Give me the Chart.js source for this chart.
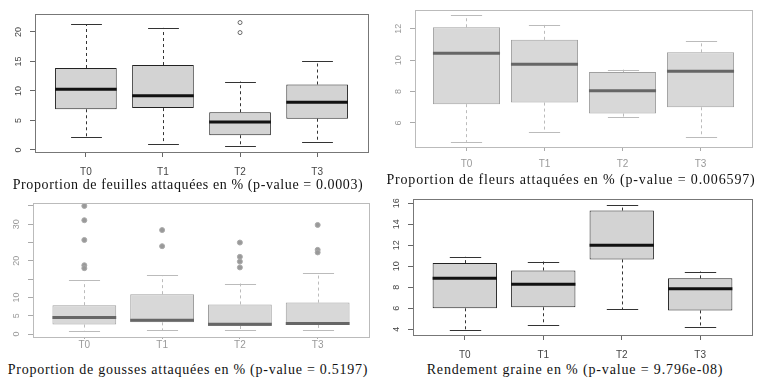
<!DOCTYPE html>
<html>
<head>
<meta charset="utf-8">
<script src="https://cdn.jsdelivr.net/npm/chart.js@4.4.1/dist/chart.umd.min.js"></script>
<style>
  body { margin: 0; background: #fff; width: 758px; height: 378px; position: relative; overflow: hidden; }
  .panel { position: absolute; }
  .caption { position: absolute; font-family: "Liberation Serif", serif; font-size: 14px; color: #111; white-space: nowrap; transform: translate(-50%, -50%); }
</style>
</head>
<body>
<div class="panel" style="left:0px;top:0px"><canvas id="feuilles" width="376" height="180"></canvas></div>
<div class="panel" style="left:380px;top:0px"><canvas id="fleurs" width="378" height="172"></canvas></div>
<div class="panel" style="left:0px;top:190px"><canvas id="gousses" width="376" height="170"></canvas></div>
<div class="panel" style="left:380px;top:190px"><canvas id="rendement" width="378" height="172"></canvas></div>
<div class="caption" style="left:188px;top:185px;letter-spacing:0.6px">Proportion de feuilles attaquées en % (p-value = 0.0003)</div>
<div class="caption" style="left:571px;top:180px;letter-spacing:0.85px">Proportion de fleurs attaquées en % (p-value = 0.006597)</div>
<div class="caption" style="left:188px;top:370px;letter-spacing:0.75px">Proportion de gousses attaquées en % (p-value = 0.5197)</div>
<div class="caption" style="left:575px;top:370px;letter-spacing:0.85px">Rendement graine en % (p-value = 9.796e-08)</div>
<script>
const categories = ['T0', 'T1', 'T2', 'T3'];

// Feuilles attaquées (%)
const feuillesLow = [2.2, 1.0, 0.6, 1.4];
const feuillesQ1 = [6.9, 7.1, 2.5, 5.3];
const feuillesMed = [10.3, 9.2, 4.75, 8.1];
const feuillesQ3 = [13.9, 14.4, 6.4, 11.1];
const feuillesHigh = [21.3, 20.7, 11.6, 15.0];
const feuillesOut = [[], [], [21.6, 19.9], []];
const feuillesTicks = [0, 5, 10, 15, 20];

// Fleurs attaquées (%)
const fleursLow = [4.8, 5.45, 6.35, 5.1];
const fleursQ1 = [7.2, 7.3, 6.6, 7.0];
const fleursMed = [10.45, 9.75, 8.05, 9.3];
const fleursQ3 = [12.1, 11.3, 9.25, 10.5];
const fleursHigh = [12.85, 12.25, 9.4, 11.2];
const fleursOut = [[], [], [], []];
const fleursTicks = [6, 8, 10, 12];

// Gousses attaquées (%)
const goussesLow = [0.9, 1.1, 1.1, 1.1];
const goussesQ1 = [2.6, 3.2, 2.2, 2.5];
const goussesMed = [4.5, 3.8, 2.7, 2.9];
const goussesQ3 = [7.9, 10.9, 8.1, 8.6];
const goussesHigh = [14.75, 16.1, 13.8, 16.6];
const goussesOut = [[35, 31.1, 25.7, 18.8, 18.0], [28.4, 24.0], [25, 21.1, 19.8, 18.2], [29.8, 23.0, 22.3]];
const goussesTicks = [0, 5, 10, 15, 20, 25, 30, 35];
const goussesTickLabels = [0, 5, 10, 20, 30];

// Rendement graine (%)
const rendLow = [3.95, 4.45, 5.9, 4.25];
const rendQ1 = [6.0, 6.1, 10.65, 5.8];
const rendMed = [8.85, 8.3, 12.0, 7.85];
const rendQ3 = [10.3, 9.6, 15.3, 8.85];
const rendHigh = [10.9, 10.45, 15.85, 9.5];
const rendOut = [[], [], [], []];
const rendTicks = [4, 6, 8, 10, 12, 14, 16];

const boxParts = {
  id: 'boxParts',
  beforeDatasetsDraw(chart, args, o) {
    const ctx = chart.ctx, x = chart.scales.x, y = chart.scales.y;
    ctx.save();
    ctx.strokeStyle = o.line;
    ctx.lineWidth = 1;
    o.low.forEach((lo, i) => {
      const cx = Math.round(x.getPixelForValue(i + 1)) + 0.5;
      const half = x.getPixelForValue(i + 1 + 0.2) - x.getPixelForValue(i + 1);
      ctx.setLineDash([3, 3]);
      ctx.beginPath();
      ctx.moveTo(cx, y.getPixelForValue(o.q3[i]));
      ctx.lineTo(cx, y.getPixelForValue(o.high[i]));
      ctx.moveTo(cx, y.getPixelForValue(o.q1[i]));
      ctx.lineTo(cx, y.getPixelForValue(lo));
      ctx.stroke();
      ctx.setLineDash([]);
      ctx.beginPath();
      [o.high[i], lo].forEach(v => {
        const py = Math.round(y.getPixelForValue(v)) + 0.5;
        ctx.moveTo(cx - half, py);
        ctx.lineTo(cx + half, py);
      });
      ctx.stroke();
    });
    ctx.restore();
  },
  afterDatasetsDraw(chart, args, o) {
    const ctx = chart.ctx, x = chart.scales.x, y = chart.scales.y;
    ctx.save();
    ctx.strokeStyle = o.median;
    ctx.lineWidth = 3;
    o.med.forEach((m, i) => {
      const half = (x.getPixelForValue(i + 1 + o.width / 2) - x.getPixelForValue(i + 1));
      const cx = x.getPixelForValue(i + 1);
      const py = y.getPixelForValue(m);
      ctx.beginPath();
      ctx.moveTo(cx - half, py);
      ctx.lineTo(cx + half, py);
      ctx.stroke();
    });
    // frame
    const a = chart.chartArea;
    ctx.strokeStyle = o.frame;
    ctx.lineWidth = 1;
    ctx.strokeRect(Math.round(a.left) + 0.5, Math.round(a.top) + 0.5, Math.round(a.right - a.left), Math.round(a.bottom - a.top));
    // rotated y labels
    ctx.fillStyle = o.text;
    ctx.font = '9px "Liberation Sans", Arial, sans-serif';
    ctx.textAlign = 'center';
    ctx.textBaseline = 'middle';
    o.labels.forEach(v => {
      ctx.save();
      ctx.translate(a.left - 16, y.getPixelForValue(v));
      ctx.rotate(-Math.PI / 2);
      ctx.fillText(String(v), 0, 0);
      ctx.restore();
    });
    ctx.restore();
  }
};

function makeBox(id, d, s) {
  const boxes = categories.map((c, i) => ({ x: i + 1, y: [d.q1[i], d.q3[i]] }));
  const outliers = [];
  d.out.forEach((list, i) => list.forEach(v => outliers.push({ x: i + 1, y: v })));
  new Chart(document.getElementById(id), {
    type: 'bar',
    data: {
      datasets: [{
        type: 'bar',
        data: boxes,
        backgroundColor: s.fill,
        borderColor: s.border,
        borderWidth: 1,
        borderSkipped: false,
        barPercentage: s.width,
        categoryPercentage: 1
      }, {
        type: 'scatter',
        data: outliers,
        pointRadius: s.pointRadius,
        pointBackgroundColor: s.pointFill,
        pointBorderColor: s.pointBorder,
        pointBorderWidth: 1
      }]
    },
    options: {
      responsive: false,
      animation: false,
      events: [],
      layout: { padding: { top: s.top, right: s.right, left: 0, bottom: 0 } },
      plugins: {
        legend: { display: false },
        tooltip: { enabled: false },
        boxParts: {
          low: d.low, q1: d.q1, med: d.med, q3: d.q3, high: d.high,
          labels: d.labels, width: s.width, line: s.line, median: s.median,
          frame: s.frame, text: s.text
        }
      },
      scales: {
        x: {
          type: 'linear', min: 0.34, max: 4.66, offset: false,
          afterBuildTicks: sc => { sc.ticks = categories.map((c, i) => ({ value: i + 1 })); },
          afterFit: sc => { sc.height = s.xh; },
          grid: { drawOnChartArea: false, drawTicks: true, tickLength: s.tickLen, color: s.tick, offset: false },
          border: { display: false },
          ticks: {
            padding: s.xpad, color: s.text,
            font: { family: '"Liberation Sans", Arial, sans-serif', size: 10 },
            callback: v => categories[v - 1]
          }
        },
        y: {
          min: s.ymin, max: s.ymax,
          afterBuildTicks: sc => { sc.ticks = d.ticks.map(v => ({ value: v })); },
          afterFit: sc => { sc.width = s.yw; },
          grid: { drawOnChartArea: false, drawTicks: true, tickLength: 5, color: s.tick },
          border: { display: false },
          ticks: { display: false }
        }
      }
    },
    plugins: [boxParts]
  });
}

const sharp = {
  fill: '#d3d3d3', border: '#222', line: '#333', median: '#111', frame: '#777',
  text: '#444', tick: '#666', pointFill: 'rgba(0,0,0,0)', pointBorder: '#666', pointRadius: 2, tickLen: 5
};
const faded = {
  fill: '#d8d8d8', border: '#a0a0a0', line: '#bbb', median: '#666', frame: '#bbb',
  text: '#999', tick: '#aaa', pointFill: '#999', pointBorder: '#aaa', pointRadius: 2.5, tickLen: 4
};

makeBox('feuilles',
  { low: feuillesLow, q1: feuillesQ1, med: feuillesMed, q3: feuillesQ3, high: feuillesHigh, out: feuillesOut, ticks: feuillesTicks, labels: feuillesTicks },
  Object.assign({}, sharp, { width: 0.8, ymin: -0.34, ymax: 23.05, top: 14, right: 8, yw: 35, xh: 28, xpad: 9 }));

makeBox('fleurs',
  { low: fleursLow, q1: fleursQ1, med: fleursMed, q3: fleursQ3, high: fleursHigh, out: fleursOut, ticks: fleursTicks, labels: fleursTicks },
  Object.assign({}, faded, { width: 0.86, ymin: 4.47, ymax: 13.2, top: 10, right: 6, yw: 35, xh: 25, xpad: 7 }));

makeBox('gousses',
  { low: goussesLow, q1: goussesQ1, med: goussesMed, q3: goussesQ3, high: goussesHigh, out: goussesOut, ticks: goussesTicks, labels: goussesTickLabels },
  Object.assign({}, faded, { width: 0.82, ymin: -0.8, ymax: 35.8, top: 13, right: 7, yw: 33, xh: 23, xpad: 0, tickLen: 2 }));

makeBox('rendement',
  { low: rendLow, q1: rendQ1, med: rendMed, q3: rendQ3, high: rendHigh, out: rendOut, ticks: rendTicks, labels: rendTicks },
  Object.assign({}, sharp, { width: 0.82, ymin: 3.46, ymax: 16.4, top: 9, right: 6, yw: 33, xh: 27, xpad: 9 }));
</script>
</body>
</html>
